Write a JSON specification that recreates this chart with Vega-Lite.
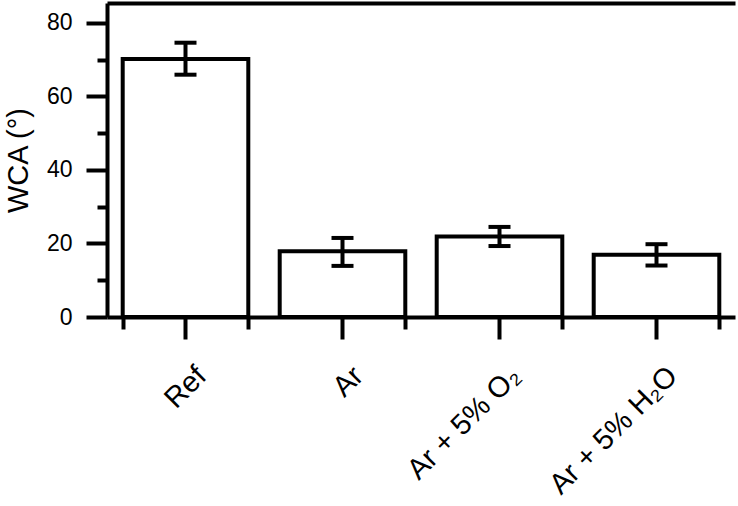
{
  "$schema": "https://vega.github.io/schema/vega-lite/v6.json",
  "autosize": "none",
  "width": 628,
  "height": 314,
  "padding": {"left": 107, "top": 3, "right": 3, "bottom": 189},
  "config": {
    "view": {"stroke": null},
    "axis": {
      "labelFont": "Liberation Sans, DejaVu Sans",
      "titleFont": "Liberation Sans, DejaVu Sans",
      "labelFontSize": 23,
      "titleFontSize": 29,
      "titleFontWeight": "normal",
      "labelColor": "black",
      "titleColor": "black",
      "tickColor": "black",
      "domainColor": "black",
      "tickWidth": 4,
      "domainWidth": 4,
      "grid": false
    }
  },
  "data": {
    "values": [
      {"cond": "Ref", "wca": 70.2, "lo": 65.9, "hi": 74.6},
      {"cond": "Ar", "wca": 17.9, "lo": 13.9, "hi": 21.5},
      {"cond": "Ar + 5% O₂", "wca": 21.9, "lo": 19.3, "hi": 24.5},
      {"cond": "Ar + 5% H₂O", "wca": 16.9, "lo": 14.0, "hi": 19.8}
    ]
  },
  "layer": [
    {
      "mark": {"type": "bar", "fill": "white", "stroke": "black", "strokeWidth": 4},
      "encoding": {
        "x": {
          "field": "cond", "type": "nominal", "sort": null,
          "scale": {"paddingInner": 0.2, "paddingOuter": 0.1},
          "axis": {
            "orient": "bottom", "title": null, "labelAngle": -45, "labelAlign": "right", "labelBaseline": "middle",
            "labelFontSize": 29, "tickSize": 22, "labelPadding": 32, "labelOffset": 16,
            "domain": true
          }
        },
        "y": {
          "field": "wca", "type": "quantitative",
          "scale": {"domain": [0, 85.4], "nice": false},
          "axis": {
            "orient": "left", "title": "WCA (°)", "titleFontSize": 29, "titlePadding": 13,
            "values": [0, 20, 40, 60, 80], "labelFontSize": 23, "tickSize": 21, "labelPadding": 14,
            "domain": true
          }
        }
      }
    },
    {
      "mark": {"type": "rule", "strokeWidth": 4, "color": "black"},
      "encoding": {
        "x": {
          "field": "cond", "type": "nominal", "sort": null,
          "axis": {"orient": "bottom", "title": null, "labels": false, "tickBand": "extent", "tickSize": 12, "domain": false}
        },
        "y": {
          "field": "lo", "type": "quantitative",
          "axis": {"orient": "left", "title": null, "labels": false, "values": [10, 30, 50, 70], "tickSize": 10, "domain": false}
        },
        "y2": {"field": "hi"}
      }
    },
    {
      "mark": {"type": "tick", "orient": "horizontal", "size": 22, "thickness": 4, "color": "black", "opacity": 1},
      "encoding": {
        "x": {
          "field": "cond", "type": "nominal", "sort": null,
          "axis": {"orient": "top", "title": null, "labels": false, "ticks": false, "domain": true}
        },
        "y": {"field": "lo", "type": "quantitative", "axis": null}
      }
    },
    {
      "mark": {"type": "tick", "orient": "horizontal", "size": 22, "thickness": 4, "color": "black", "opacity": 1},
      "encoding": {
        "x": {"field": "cond", "type": "nominal", "sort": null, "axis": null},
        "y": {"field": "hi", "type": "quantitative", "axis": null}
      }
    }
  ],
  "resolve": {"axis": {"x": "independent", "y": "independent"}}
}
